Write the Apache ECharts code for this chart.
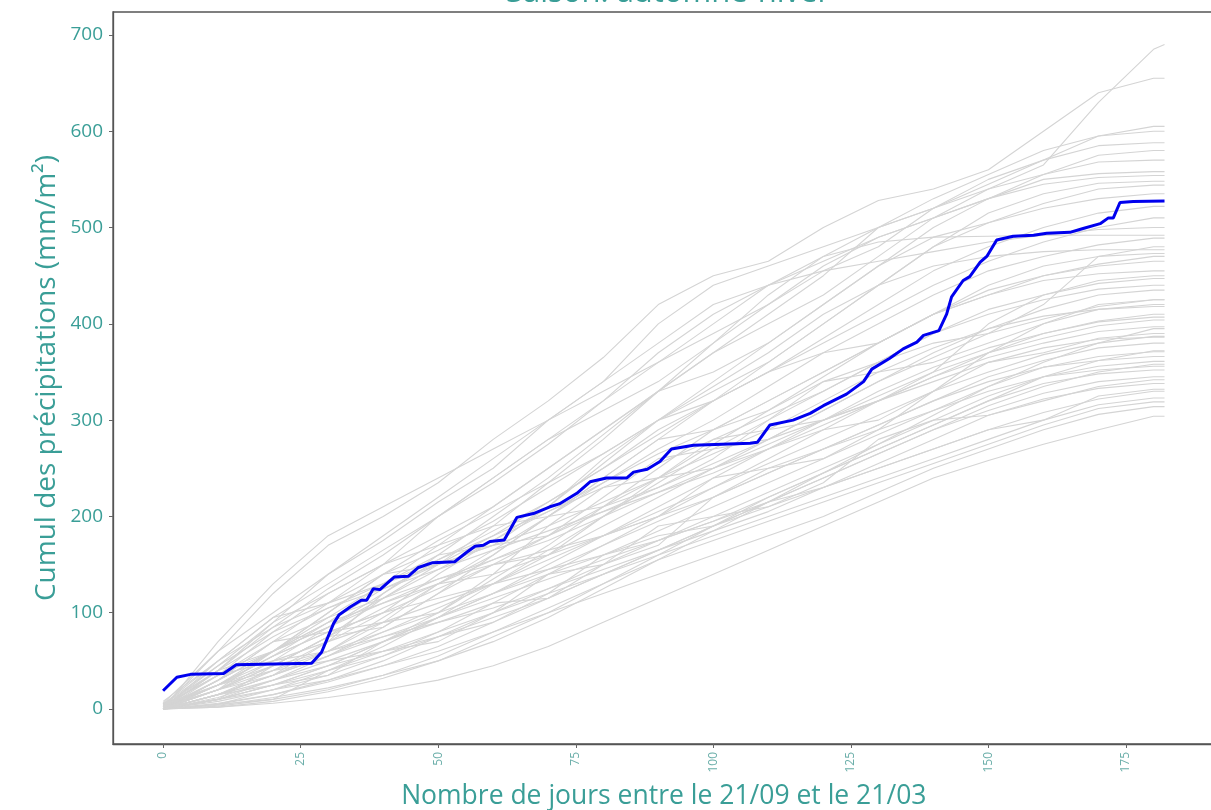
<!DOCTYPE html>
<html>
<head>
<meta charset="utf-8">
<script src="https://cdn.jsdelivr.net/npm/echarts@6/dist/echarts.min.js"></script>
<style>
  html, body { margin: 0; padding: 0; background: #fff; overflow: hidden; }
  #chart { width: 1215px; height: 810px; }
</style>
</head>
<body>
<div id="chart"></div>
<script>
// jours echantillonnes pour les annees de fond (gris)
const grayDays = [0, 10, 20, 30, 40, 50, 60, 70, 80, 90, 100, 110, 120, 130, 140, 150, 160, 170, 180, 182];

const run01 = [0, 30, 60, 95, 130, 160, 200, 240, 285, 330, 370, 400, 430, 470, 510, 540, 565, 630, 685, 690];
const run02 = [2, 60, 120, 170, 200, 235, 280, 320, 365, 420, 450, 465, 500, 528, 540, 560, 600, 640, 655, 655];
const run03 = [0, 40, 90, 140, 175, 215, 250, 300, 340, 400, 440, 460, 480, 500, 520, 545, 570, 595, 605, 605];
const run04 = [5, 25, 55, 90, 130, 170, 210, 250, 290, 330, 370, 410, 450, 500, 530, 555, 580, 595, 600, 600];
const run05 = [0, 70, 130, 180, 210, 240, 270, 300, 330, 360, 390, 420, 455, 480, 520, 550, 570, 585, 588, 588];
const run06 = [3, 20, 45, 75, 115, 150, 190, 235, 280, 330, 380, 420, 460, 490, 510, 530, 555, 575, 580, 580];
const run07 = [0, 35, 80, 120, 150, 200, 240, 280, 310, 340, 380, 430, 470, 500, 520, 540, 555, 568, 570, 570];
const run08 = [0, 15, 40, 70, 100, 140, 175, 210, 255, 300, 340, 380, 420, 460, 500, 530, 550, 556, 558, 558];
const run09 = [8, 50, 95, 130, 165, 200, 235, 275, 320, 370, 410, 440, 465, 490, 510, 530, 545, 552, 554, 554];
const run10 = [0, 25, 60, 100, 140, 175, 205, 235, 265, 300, 330, 360, 400, 440, 480, 515, 535, 546, 548, 548];
const run11 = [0, 10, 30, 55, 85, 120, 160, 200, 240, 280, 320, 360, 400, 440, 480, 505, 525, 540, 544, 544];
const run12 = [2, 45, 90, 120, 150, 180, 210, 250, 290, 330, 350, 380, 420, 460, 490, 505, 520, 530, 535, 535];
const run13 = [0, 30, 60, 90, 125, 150, 180, 215, 250, 290, 320, 350, 385, 420, 455, 480, 500, 515, 522, 522];
const run14 = [0, 20, 50, 85, 120, 155, 185, 215, 250, 285, 320, 350, 380, 410, 440, 465, 485, 500, 510, 510];
const run15 = [6, 60, 100, 140, 180, 220, 260, 300, 340, 380, 420, 440, 455, 465, 475, 485, 492, 498, 500, 500];
const run16 = [0, 40, 85, 125, 160, 200, 240, 280, 320, 360, 400, 440, 470, 485, 490, 491, 492, 492, 492, 492];
const run17 = [0, 15, 35, 60, 95, 130, 165, 200, 235, 270, 300, 335, 370, 400, 430, 455, 470, 482, 489, 489];
const run18 = [2, 30, 70, 110, 140, 165, 195, 230, 265, 300, 335, 370, 410, 440, 460, 470, 475, 477, 477, 477];
const run19 = [0, 10, 25, 45, 70, 100, 135, 170, 210, 250, 290, 320, 350, 380, 410, 435, 450, 462, 470, 470];
const run20 = [4, 35, 60, 85, 115, 145, 175, 205, 235, 265, 290, 320, 350, 380, 410, 430, 450, 460, 465, 465];
const run21 = [0, 25, 55, 80, 100, 125, 150, 180, 210, 240, 275, 310, 345, 380, 410, 430, 445, 452, 455, 455];
const run22 = [0, 5, 20, 40, 65, 95, 130, 165, 200, 235, 270, 300, 330, 360, 390, 415, 430, 442, 447, 447];
const run23 = [3, 40, 75, 105, 130, 155, 180, 205, 230, 255, 280, 305, 330, 360, 390, 410, 425, 436, 440, 440];
const run24 = [0, 20, 45, 75, 105, 130, 155, 180, 205, 230, 255, 280, 310, 340, 370, 395, 415, 430, 435, 435];
const run25 = [0, 15, 35, 55, 80, 105, 130, 160, 190, 220, 250, 280, 310, 340, 365, 390, 405, 418, 425, 425];
const run26 = [5, 50, 85, 110, 130, 150, 170, 190, 215, 240, 265, 290, 320, 350, 375, 395, 408, 415, 418, 418];
const run27 = [0, 10, 25, 45, 70, 95, 120, 150, 180, 210, 240, 270, 300, 330, 355, 375, 390, 402, 407, 407];
const run28 = [0, 30, 60, 85, 110, 135, 155, 175, 200, 225, 250, 275, 300, 325, 350, 370, 385, 398, 404, 404];
const run29 = [0, 8, 20, 35, 55, 80, 110, 140, 170, 200, 230, 260, 290, 320, 345, 365, 380, 392, 397, 397];
const run30 = [2, 25, 50, 70, 90, 110, 130, 155, 180, 205, 230, 255, 280, 305, 330, 350, 368, 380, 387, 387];
const run31 = [0, 12, 30, 50, 70, 95, 120, 145, 170, 195, 220, 245, 270, 295, 320, 345, 362, 375, 380, 380];
const run32 = [0, 20, 40, 60, 80, 100, 120, 140, 160, 185, 210, 235, 260, 285, 310, 335, 355, 366, 371, 371];
const run33 = [4, 35, 70, 95, 115, 135, 150, 165, 180, 200, 220, 245, 270, 295, 320, 340, 355, 362, 366, 366];
const run34 = [0, 5, 15, 30, 50, 75, 100, 125, 150, 175, 200, 225, 250, 275, 300, 325, 345, 356, 361, 361];
const run35 = [0, 15, 35, 55, 75, 95, 115, 135, 155, 175, 195, 220, 245, 270, 295, 320, 338, 348, 352, 352];
const run36 = [0, 10, 25, 40, 55, 75, 95, 115, 140, 165, 190, 215, 240, 265, 290, 310, 328, 340, 345, 345];
const run37 = [3, 25, 45, 60, 75, 90, 105, 125, 145, 165, 185, 205, 230, 255, 280, 305, 322, 333, 338, 338];
const run38 = [0, 6, 15, 28, 45, 65, 90, 115, 140, 165, 190, 210, 230, 250, 270, 290, 308, 322, 330, 330];
const run39 = [0, 15, 30, 45, 60, 80, 100, 120, 140, 160, 180, 200, 220, 240, 260, 280, 300, 316, 323, 323];
const run40 = [0, 3, 10, 20, 35, 55, 80, 105, 130, 155, 175, 195, 215, 235, 255, 275, 295, 312, 319, 319];
const run41 = [0, 10, 20, 30, 45, 60, 80, 100, 120, 140, 160, 180, 200, 225, 250, 270, 290, 306, 314, 314];
const run42 = [0, 2, 6, 12, 20, 30, 45, 65, 90, 115, 140, 165, 190, 215, 240, 258, 275, 290, 304, 304];
const run43 = [0, 4, 12, 22, 35, 50, 70, 95, 125, 155, 185, 215, 245, 275, 305, 335, 360, 380, 395, 395];
const run44 = [5, 45, 80, 105, 125, 145, 165, 185, 205, 225, 245, 270, 295, 320, 345, 370, 390, 403, 410, 410];
const run45 = [0, 2, 8, 18, 32, 50, 75, 100, 130, 160, 190, 220, 245, 270, 295, 320, 345, 362, 372, 372];
const run46 = [0, 25, 55, 80, 100, 115, 130, 145, 160, 175, 195, 215, 240, 265, 290, 315, 335, 350, 358, 358];
const run47 = [0, 50, 95, 110, 150, 170, 190, 200, 240, 280, 290, 310, 340, 350, 360, 380, 400, 420, 425, 425];
const run48 = [0, 5, 10, 40, 60, 70, 100, 140, 150, 170, 220, 250, 260, 290, 330, 360, 370, 385, 390, 390];
const run49 = [2, 20, 35, 70, 120, 160, 170, 180, 220, 260, 270, 280, 300, 320, 350, 400, 430, 445, 450, 450];
const run50 = [0, 30, 70, 80, 90, 130, 160, 200, 210, 230, 260, 300, 340, 360, 380, 390, 420, 470, 480, 480];
const run51 = [0, 15, 25, 35, 70, 90, 110, 115, 150, 190, 200, 210, 235, 280, 300, 305, 320, 335, 342, 342];
const run52 = [3, 35, 50, 60, 90, 100, 140, 190, 230, 240, 250, 270, 290, 300, 330, 370, 400, 415, 420, 420];
const run53 = [0, 10, 45, 75, 85, 120, 150, 160, 180, 200, 240, 250, 270, 290, 310, 330, 345, 352, 356, 356];
const run54 = [0, 25, 40, 50, 60, 75, 90, 120, 160, 180, 190, 215, 230, 250, 270, 290, 300, 325, 332, 332];
const run55 = [5, 40, 60, 100, 140, 150, 170, 210, 260, 300, 320, 350, 370, 380, 410, 440, 460, 470, 473, 473];
const run56 = [0, 20, 60, 90, 110, 130, 140, 160, 200, 240, 280, 290, 300, 320, 340, 360, 375, 384, 386, 386];

const grayRuns = [run01, run02, run03, run04, run05, run06, run07, run08, run09, run10,
  run11, run12, run13, run14, run15, run16, run17, run18, run19, run20,
  run21, run22, run23, run24, run25, run26, run27, run28, run29, run30,
  run31, run32, run33, run34, run35, run36, run37, run38, run39, run40,
  run41, run42, run43, run44, run45, run46, run47, run48, run49, run50,
  run51, run52, run53, run54, run55, run56];

// annee mise en avant (bleu)
const blueDays = [0, 2.5, 5, 11, 13.3, 27, 28.8, 31, 32, 34, 36, 37, 38.2, 39.4, 42, 44.6, 46.4, 49, 53, 55,
  56.7, 58.2, 59.4, 62, 64.3, 67.3, 70.3, 72, 75.2, 77.6, 80.6, 84.3, 85.5, 88, 90.3, 92.4, 96.4, 106.7, 108, 110.3,
  114.5, 117.6, 120, 124.2, 127.3, 128.8, 132, 134.5, 137, 138.2, 141, 142.4, 143.3, 145.4, 146.6, 148.5, 149.7, 151.5, 154.5, 158.2,
  160.6, 164.8, 167.2, 170.3, 171.8, 172.7, 173.9, 176.3, 182];
const blueValues = [19, 33, 36, 37, 46, 47.5, 59, 89, 98, 106, 113, 113, 125, 124, 137, 138, 147, 152, 153, 162,
  169, 170, 174, 175.5, 199, 203, 210, 213, 224, 236, 240, 240, 246, 249, 257, 270, 274, 276, 277, 295,
  300, 307, 315, 327, 340, 353, 364, 374, 381, 388, 393, 410, 428, 445, 449, 464, 470, 487, 491, 492,
  494, 495, 499, 504, 510, 510, 526, 527, 527.5];

const xTicks = [0, 25, 50, 75, 100, 125, 150, 175];
const yTicks = [0, 100, 200, 300, 400, 500, 600, 700];

const teal = '#3a9e97';
const font = 'Open Sans';

const chart = echarts.init(document.getElementById('chart'), null, { renderer: 'canvas' });

const series = [];
for (let i = 0; i < grayRuns.length; i++) {
  series.push({
    type: 'line',
    data: grayDays.map((d, k) => [d, grayRuns[i][k]]),
    showSymbol: false,
    lineStyle: { color: '#d4d4d4', width: 1.1 },
    silent: true,
    z: 2
  });
}
series.push({
  type: 'line',
  data: blueDays.map((d, k) => [d, blueValues[k]]),
  showSymbol: false,
  lineStyle: { color: '#0000ee', width: 3 },
  z: 5
});

const option = {
  animation: false,
  backgroundColor: '#fff',
  title: {
    text: 'Saison: automne-hiver',
    left: 663,
    textAlign: 'center',
    top: -27,
    textStyle: { color: teal, fontFamily: font, fontSize: 31, fontWeight: 'normal' }
  },
  grid: {
    left: 113, right: 0.4, top: 12, bottom: 66,
    outerBoundsMode: 'none',
    containLabel: false,
    show: true, borderColor: '#555', borderWidth: 1.3
  },
  xAxis: {
    type: 'value',
    min: -9.1, max: 191.1,
    name: 'Nombre de jours entre le 21/09 et le 21/03',
    nameLocation: 'middle',
    nameGap: 39,
    nameMoveOverlap: false,
    nameTextStyle: { color: teal, fontFamily: font, fontSize: 26.5 },
    axisLine: { show: true, onZero: false, lineStyle: { color: '#555', width: 1.3 } },
    splitLine: { show: false },
    axisTick: { show: true, inside: false, length: 4, lineStyle: { color: '#666' }, customValues: xTicks },
    axisLabel: {
      customValues: xTicks, rotate: 90, color: '#6aaea9', fontFamily: font, fontSize: 12, margin: 8
    }
  },
  yAxis: {
    type: 'value',
    min: -36.3, max: 723.8,
    name: 'Cumul des précipitations (mm/m²)',
    nameLocation: 'middle',
    nameGap: 52,
    nameMoveOverlap: false,
    nameTextStyle: { color: teal, fontFamily: font, fontSize: 28 },
    axisLine: { show: true, onZero: false, lineStyle: { color: '#555', width: 1.3 } },
    splitLine: { show: false },
    axisTick: { show: true, inside: false, length: 4, lineStyle: { color: '#666' }, customValues: yTicks },
    axisLabel: {
      customValues: yTicks, color: teal, fontFamily: font, fontSize: 19, margin: 10
    }
  },
  series: series
};

chart.setOption(option);
</script>
</body>
</html>
